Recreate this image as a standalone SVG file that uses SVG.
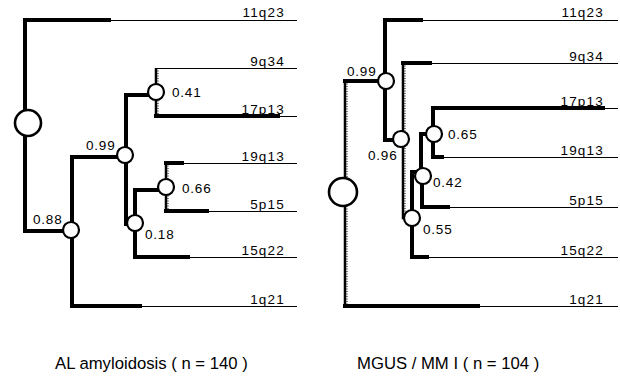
<svg xmlns="http://www.w3.org/2000/svg" width="620" height="376" viewBox="0 0 620 376">
<style>
.bg{fill:#fff}
.thk{stroke:#000;stroke-width:4;fill:none;stroke-linecap:square}
.hat{stroke:#000;stroke-width:2.5;fill:none}
.hatd{stroke:#000;stroke-width:1;fill:none;stroke-dasharray:1 1.5}
.thn{stroke:#000;stroke-width:1;fill:none;transform:translateY(0.5px)}
.nd{fill:#fff;stroke:#000;stroke-width:2.2}
.rt{fill:#fff;stroke:#000;stroke-width:2.6}
.lbl{font-family:"Liberation Sans",Arial,sans-serif;font-size:13.5px;letter-spacing:0.8px;fill:#000}
.leaf{font-family:"Liberation Sans",Arial,sans-serif;font-size:13.5px;letter-spacing:1.2px;fill:#000;text-anchor:end}
.ttl{font-family:"Liberation Sans",Arial,sans-serif;font-size:16.7px;fill:#000}
</style>
<rect class="bg" x="0" y="0" width="620" height="376"/>
<g id="connectors">
  <path class="thk" d="M109 20 H25 V231 H71"/>
  <path class="thn" d="M109 20 H297"/>
  <path class="thk" d="M125 157 H72 V306 H140"/>
  <path class="thn" d="M140 306 H297"/>
  <path class="thk" d="M150 95 H126 V224"/>
  <path class="hat" d="M156 68 V116"/>
  <path class="hatd" d="M158 68 V116"/>
  <path class="thn" d="M156 68 H297"/>
  <path class="thk" d="M156 116 H278"/>
  <path class="thn" d="M278 116 H297"/>
  <path class="thk" d="M166 190 H135 V257 H188"/>
  <path class="thn" d="M188 257 H297"/>
  <path class="hat" d="M166 163 V211"/>
  <path class="hatd" d="M168 163 V211"/>
  <path class="thk" d="M166 163 H182"/>
  <path class="thn" d="M182 163 H297"/>
  <path class="thk" d="M166 211 H207"/>
  <path class="thn" d="M207 211 H297"/>
  <path class="hat" d="M345 81 V306"/>
  <path class="hatd" d="M347 81 V306"/>
  <path class="thk" d="M345 81 H386"/>
  <path class="thk" d="M345 306 H478"/>
  <path class="thn" d="M478 306 H618"/>
  <path class="thk" d="M421 20 H385 V140 H401"/>
  <path class="thn" d="M421 20 H618"/>
  <path class="hat" d="M403 63 V218 H411"/>
  <path class="hatd" d="M405 63 V216"/>
  <path class="thk" d="M403 63 H430"/>
  <path class="thn" d="M430 63 H618"/>
  <path class="thk" d="M423 172 H412 V257 H427"/>
  <path class="thn" d="M427 257 H618"/>
  <path class="thk" d="M426 134 H421 V176"/>
  <path class="thk" d="M422 176 V207 H448"/>
  <path class="thn" d="M448 207 H618"/>
  <path class="thk" d="M603 108 H433 V157 H442"/>
  <path class="thn" d="M603 108 H618"/>
  <path class="thn" d="M442 157 H618"/>
</g>
<g id="left-root"><circle class="rt" cx="28" cy="123" r="13"/></g>
<g id="left-n088"><circle class="nd" cx="71" cy="230" r="8"/><text class="lbl" x="33" y="224">0.88</text></g>
<g id="left-n099"><circle class="nd" cx="125" cy="155" r="8"/><text class="lbl" x="86" y="150">0.99</text></g>
<g id="left-n041"><circle class="nd" cx="156" cy="92" r="8"/><text class="lbl" x="172" y="97">0.41</text></g>
<g id="left-n018"><circle class="nd" cx="135" cy="223" r="8"/><text class="lbl" x="145" y="239">0.18</text></g>
<g id="left-n066"><circle class="nd" cx="166" cy="187" r="8"/><text class="lbl" x="182" y="193">0.66</text></g>
<g id="left-11q23"><text class="leaf" x="285" y="17">11q23</text></g>
<g id="left-9q34"><text class="leaf" x="285" y="65.5">9q34</text></g>
<g id="left-17p13"><text class="leaf" x="285" y="113.5">17p13</text></g>
<g id="left-19q13"><text class="leaf" x="285" y="160.5">19q13</text></g>
<g id="left-5p15"><text class="leaf" x="285" y="208.5">5p15</text></g>
<g id="left-15q22"><text class="leaf" x="285" y="254.5">15q22</text></g>
<g id="left-1q21"><text class="leaf" x="285" y="303.5">1q21</text></g>
<g id="right-root"><circle class="rt" cx="343" cy="192" r="14"/></g>
<g id="right-n099"><circle class="nd" cx="386" cy="81" r="8"/><text class="lbl" x="347" y="76">0.99</text></g>
<g id="right-n096"><circle class="nd" cx="401" cy="139" r="8"/><text class="lbl" x="368" y="160">0.96</text></g>
<g id="right-n055"><circle class="nd" cx="412" cy="218" r="8"/><text class="lbl" x="423" y="234">0.55</text></g>
<g id="right-n042"><circle class="nd" cx="423" cy="176" r="8"/><text class="lbl" x="433" y="187">0.42</text></g>
<g id="right-n065"><circle class="nd" cx="434" cy="134" r="8"/><text class="lbl" x="448" y="139">0.65</text></g>
<g id="right-11q23"><text class="leaf" x="604" y="17">11q23</text></g>
<g id="right-9q34"><text class="leaf" x="604" y="60.5">9q34</text></g>
<g id="right-17p13"><text class="leaf" x="604" y="105.5">17p13</text></g>
<g id="right-19q13"><text class="leaf" x="604" y="154.5">19q13</text></g>
<g id="right-5p15"><text class="leaf" x="604" y="204.5">5p15</text></g>
<g id="right-15q22"><text class="leaf" x="604" y="254.5">15q22</text></g>
<g id="right-1q21"><text class="leaf" x="604" y="303.5">1q21</text></g>
<g id="title-left"><text class="ttl" x="55" y="369">AL amyloidosis ( n = 140 )</text></g>
<g id="title-right"><text class="ttl" x="357" y="369">MGUS / MM I ( n = 104 )</text></g>
</svg>
